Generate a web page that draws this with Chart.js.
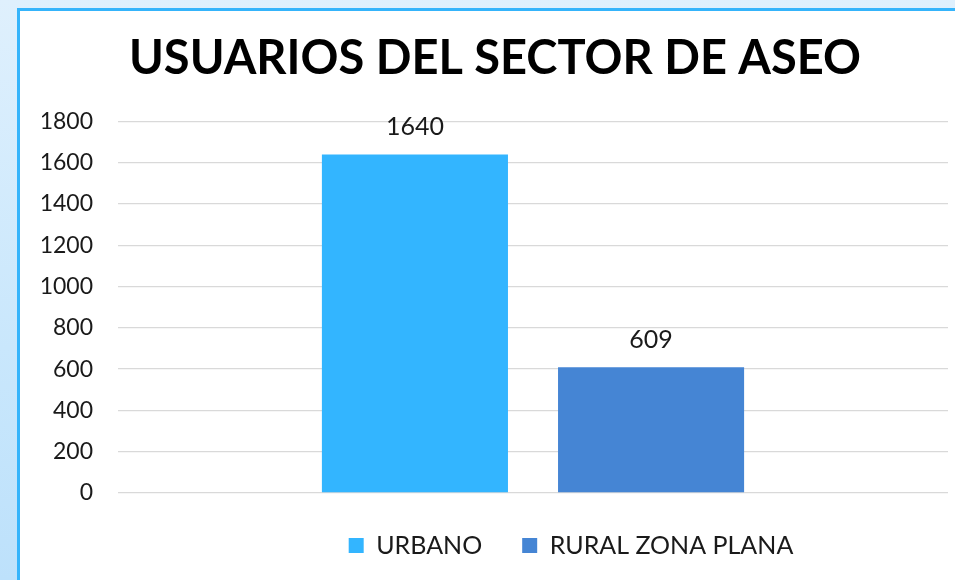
<!DOCTYPE html>
<html><head><meta charset="utf-8">
<script src="https://cdn.jsdelivr.net/npm/chart.js@4"></script>
<style>
html,body{margin:0;padding:0;}
body{width:955px;height:580px;overflow:hidden;background:linear-gradient(180deg,#dff0fd 0%,#c9e7fc 60%,#bde1fb 100%);position:relative;}
#frame{position:absolute;left:17px;top:8px;width:938px;height:572px;background:#fff;border-left:3px solid #35b4fb;border-top:3px solid #35b4fb;box-sizing:border-box;}
#c{position:absolute;left:0;top:0;}
</style></head><body>
<div id="frame"><canvas id="c" width="935" height="569"></canvas></div>
<script>
const categories = [''];
const seriesNames = ['URBANO', 'RURAL ZONA PLANA'];
const urbanoValues = [1640];
const ruralValues = [609];
const seriesColors = ['#33b5ff', '#4585d4'];
const yTicks = [0, 200, 400, 600, 800, 1000, 1200, 1400, 1600, 1800];
const FONT = 'Lato, "DejaVu Sans", sans-serif';

const valueLabels = {
  id: 'valueLabels',
  afterDatasetsDraw(chart) {
    const ctx = chart.ctx;
    ctx.save();
    ctx.font = '25px ' + FONT;
    ctx.fillStyle = '#1a1a1a';
    ctx.textAlign = 'center';
    ctx.textBaseline = 'middle';
    chart.data.datasets.forEach((ds, i) => {
      chart.getDatasetMeta(i).data.forEach((bar, j) => {
        ctx.fillText(String(ds.data[j]), bar.x, bar.y - 27);
      });
    });
    ctx.restore();
  }
};

const legendShift = {
  id: 'legendShift',
  afterLayout(chart) {
    const lg = chart.legend;
    const d = 76;
    lg.left += d; lg.right += d;
  }
};

new Chart(document.getElementById('c'), {
  type: 'bar',
  data: {
    labels: categories,
    datasets: [
      { label: seriesNames[0], data: urbanoValues, backgroundColor: seriesColors[0] },
      { label: seriesNames[1], data: ruralValues, backgroundColor: seriesColors[1] }
    ]
  },
  options: {
    responsive: false,
    animation: false,
    devicePixelRatio: 1,
    layout: { padding: { left: 22, right: 7, top: 0, bottom: 12 } },
    datasets: { bar: { categoryPercentage: 0.569, barPercentage: 0.788 } },
    plugins: {
      title: {
        display: true,
        text: 'USUARIOS DEL SECTOR DE ASEO',
        color: '#000',
        font: { family: FONT, size: 47, weight: 'bold' },
        padding: { top: 20, bottom: 34 }
      },
      legend: {
        position: 'bottom',
        labels: {
          color: '#1a1a1a',
          font: { family: FONT, size: 25 },
          boxWidth: 15, boxHeight: 15,
          padding: 40
        }
      },
      tooltip: { enabled: false }
    },
    scales: {
      x: { display: false },
      y: {
        min: 0, max: 1800,
        afterBuildTicks(scale) { scale.ticks = yTicks.map(v => ({ value: v })); },
        afterFit(scale) { scale.width = 76; },
        border: { display: false },
        grid: { color: '#d9d9d9', lineWidth: 1.3, drawTicks: false },
        ticks: { color: '#1a1a1a', font: { family: FONT, size: 23 }, padding: 25,
                 callback: (v) => String(v) }
      }
    }
  },
  plugins: [valueLabels, legendShift]
});
</script>
</body></html>
